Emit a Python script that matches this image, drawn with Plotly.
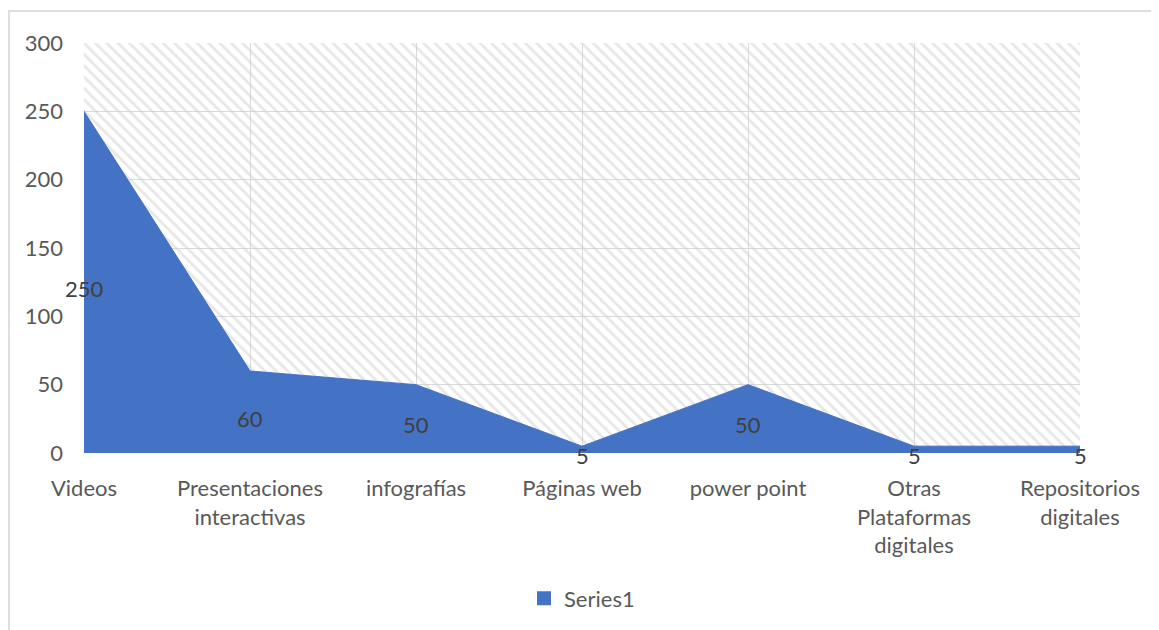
import plotly.graph_objects as go

categories = ["Videos", "Presentaciones<br>interactivas", "infografías", "Páginas web",
              "power point", "Otras<br>Plataformas<br>digitales", "Repositorios<br>digitales"]
values = [250, 60, 50, 5, 50, 5, 5]
y_ticks = [0, 50, 100, 150, 200, 250, 300]
series_name = "Series1"

BLUE = "#4472C4"
TEXT = "#595959"
GRID = "#d9d9d9"
FONT = "Lato"

# page body has an 8px margin, so the figure is drawn 8px in from the window corner
W, H = 1151, 622
ml, mr, mt, mb = 76, 79, 35, 177
pw, ph = W - ml - mr, H - mt - mb

xs = list(range(len(categories)))
xmax = xs[-1]
ymax = y_ticks[-1]

fig = go.Figure()

# hatched plot-area background
fig.add_trace(go.Scatter(
    x=[0, xmax, xmax, 0, 0], y=[0, 0, ymax, ymax, 0],
    mode="lines", line=dict(width=0), fill="toself",
    fillcolor="rgba(0,0,0,0)",
    fillpattern=dict(shape="\\", fgcolor="#cfcfcf", bgcolor="rgba(0,0,0,0)",
                     size=8, solidity=0.35),
    hoverinfo="skip", showlegend=False))

# area series
fig.add_trace(go.Scatter(
    x=xs, y=values, mode="lines", fill="tozeroy",
    fillcolor=BLUE, line=dict(color=BLUE, width=1),
    name=series_name, showlegend=False))

# legend entry with square marker
fig.add_trace(go.Scatter(
    x=[None], y=[None], mode="markers", name=series_name,
    marker=dict(symbol="square", size=14, color=BLUE), showlegend=True))

for x, v in zip(xs, values):
    fig.add_annotation(x=x, y=v / 2, text=str(v), showarrow=False, yshift=-6,
                       font=dict(family=FONT, size=22, color="#404040"))

# chart frame
fig.add_shape(type="rect", xref="paper", yref="paper",
              x0=(1 - ml) / pw, x1=1.3, y0=-0.6, y1=1 + (mt - 3) / ph,
              line=dict(color="#dedede", width=2), fillcolor="rgba(0,0,0,0)")

fig.update_layout(
    width=W, height=H,
    margin=dict(l=ml, r=mr, t=mt, b=mb, autoexpand=False),
    paper_bgcolor="white", plot_bgcolor="white",
    font=dict(family=FONT, size=22, color=TEXT),
    showlegend=True,
    legend=dict(orientation="h", x=0.5, xanchor="center", y=-0.355, yanchor="middle",
                font=dict(family=FONT, size=22, color=TEXT), itemwidth=30),
    xaxis=dict(range=[0, xmax], tickmode="array", tickvals=xs, ticktext=categories,
               showgrid=True, gridcolor=GRID, gridwidth=1, zeroline=False,
               showline=False, ticks="", ticklabelstandoff=20, fixedrange=True,
               automargin=False),
    yaxis=dict(range=[0, ymax], tickmode="array", tickvals=y_ticks,
               showgrid=True, gridcolor=GRID, gridwidth=1, zeroline=False,
               showline=False, ticks="", ticklabelstandoff=20, fixedrange=True,
               automargin=False),
)

fig.write_html("out.html")
